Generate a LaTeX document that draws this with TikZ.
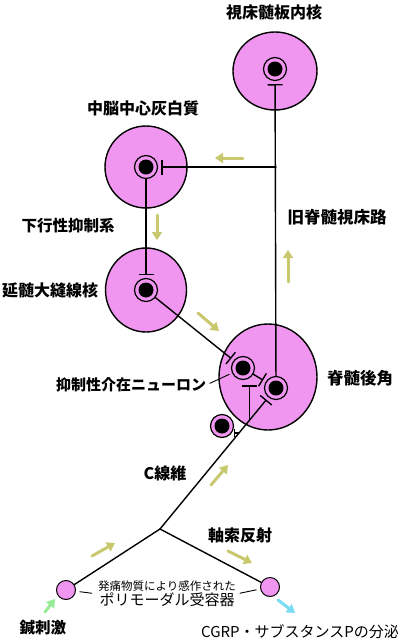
\documentclass[tikz,border=0pt]{standalone}
\usepackage{fontspec}
\setmainfont{Noto Sans CJK JP}
\usetikzlibrary{arrows.meta,shapes.geometric,calc}
\definecolor{regionpink}{RGB}{240,150,240}
\definecolor{flowolive}{RGB}{200,200,110}
\definecolor{flowgreen}{RGB}{150,235,150}
\definecolor{flowcyan}{RGB}{120,220,245}

\tikzset{
  region/.style={ellipse,draw,line width=1.4pt,fill=regionpink,inner sep=0pt},
  neuron/.style={circle,draw,line width=1.2pt,fill=regionpink,minimum size=23pt,inner sep=0pt,
    path picture={\fill[black] (path picture bounding box.center) circle (7.5pt);}},
  receptor/.style={circle,draw,line width=1pt,fill=regionpink,minimum size=19pt,inner sep=0pt},
  axon/.style={line width=1.4pt},
  inhib/.style={axon,-{Bar[width=15pt,line width=1.4pt]},shorten >=3pt},
  leader/.style={line width=0.9pt},
  flow/.style={line width=3pt,-{Triangle[length=8pt,width=10pt]},flowolive},
  lbl/.style={font=\fontsize{16}{18}\selectfont\bfseries,inner sep=0pt},
}

\begin{document}
\begin{tikzpicture}[x=1pt,y=-1pt,line cap=round,line join=round]
  \useasboundingbox (0,0) rectangle (400,640);
  % regions
  \node[region,minimum width=84pt,minimum height=78pt] (thalreg) at (275,71) {};
  \node[region,minimum width=82pt,minimum height=82pt] (pagreg) at (146,167) {};
  \node[region,minimum width=81pt,minimum height=84pt] (rmreg) at (146,290) {};
  \node[region,minimum width=98pt,minimum height=106pt] (dhreg) at (268,377) {};
  % neurons
  \node[neuron] (thal) at (275,69) {};
  \node[neuron] (pag) at (146,167) {};
  \node[neuron] (rm) at (146,290) {};
  \node[neuron] (inter) at (243,368) {};
  \node[neuron] (proj) at (276,388) {};
  \node[neuron] (small) at (222,426) {};
  \node[receptor] (lrec) at (66,590) {};
  \node[receptor] (rrec) at (270,587) {};
  \coordinate (cbranch) at (160,529);
  \coordinate (stt) at (proj |- pag);
  \coordinate (cfa) at ($(cbranch)!0.77!(proj)$);
  \coordinate (cfb) at ($(cbranch)!0.68!(proj)$);
  % ascending and descending paths
  \draw[inhib] (proj) -- (thal);
  \draw[inhib] (stt) -- (pag);
  \draw[inhib] (pag) -- (rm);
  \draw[inhib] (rm) -- (inter);
  \draw[inhib] (inter) -- (proj);
  % C fibre
  \draw[inhib] (cbranch) -- (proj);
  \draw[inhib,shorten >=5pt] (cfa) -- (cfa |- inter.south);
  \draw[axon,-{Bar[width=8pt,line width=1.2pt]}] (cfb) -- (cfb -| small.east);
  \draw[axon] (cbranch) -- (lrec);
  \draw[axon] (cbranch) -- (rrec);
  % labels
  \node[lbl] (thallbl) at (274,12) {視床髄板内核};
  \node[lbl] (paglbl) at (143,108) {中脳中心灰白質};
  \node[lbl,font=\fontsize{15.5}{18}\selectfont\bfseries] (desclbl) at (68,226) {下行性抑制系};
  \node[lbl] (rmlbl) at (50,290) {延髄大縫線核};
  \node[lbl,font=\fontsize{16.5}{18}\selectfont\bfseries] (sttlbl) at (337,217) {旧脊髄視床路};
  \node[lbl,font=\fontsize{16.5}{18}\selectfont\bfseries] (dhlbl) at (360,378) {脊髄後角};
  \node[lbl,font=\fontsize{15}{18}\selectfont\bfseries] (interlbl) at (131,385) {抑制性介在ニューロン};
  \node[lbl] (cflbl) at (165,473) {C線維};
  \node[lbl] (axlbl) at (240,535) {軸索反射};
  \node[lbl,font=\fontsize{15.5}{18}\selectfont\bfseries] (aculbl) at (43,628) {鍼刺激};
  \node[inner sep=0pt,align=center] (polylbl) at (167,594)
    {{\fontsize{11.5}{13}\selectfont 発痛物質により感作された}\\{\fontsize{15}{17}\selectfont ポリモーダル受容器}};
  \node[inner sep=0pt,font=\fontsize{15}{17}\selectfont] (cgrplbl) at (300,632) {CGRP・サブスタンスPの分泌};
  % leaders
  \draw[leader,shorten <=4pt,shorten >=3pt] (interlbl.east) -- (inter);
  \draw[leader,shorten <=6pt,shorten >=4pt] (polylbl.west) -- (lrec);
  \draw[leader,shorten <=4pt,shorten >=4pt] (polylbl.east) -- (rrec);
  % flow arrows
  \draw[flow] (243,158) -- (215,158);
  \draw[flow] (157,215) -- (157,240);
  \draw[flow] (198,313) -- (219,331);
  \draw[flow] (288,282) -- (288,250);
  \draw[flow] (211,485) -- (228,465);
  \draw[flow] (92,556) -- (115,543);
  \draw[flow] (228,551) -- (252,563);
  \draw[flow,flowgreen] (45,612) -- (55,599);
  \draw[flow,flowcyan] (278,600) -- (295,613);
\end{tikzpicture}
\end{document}
